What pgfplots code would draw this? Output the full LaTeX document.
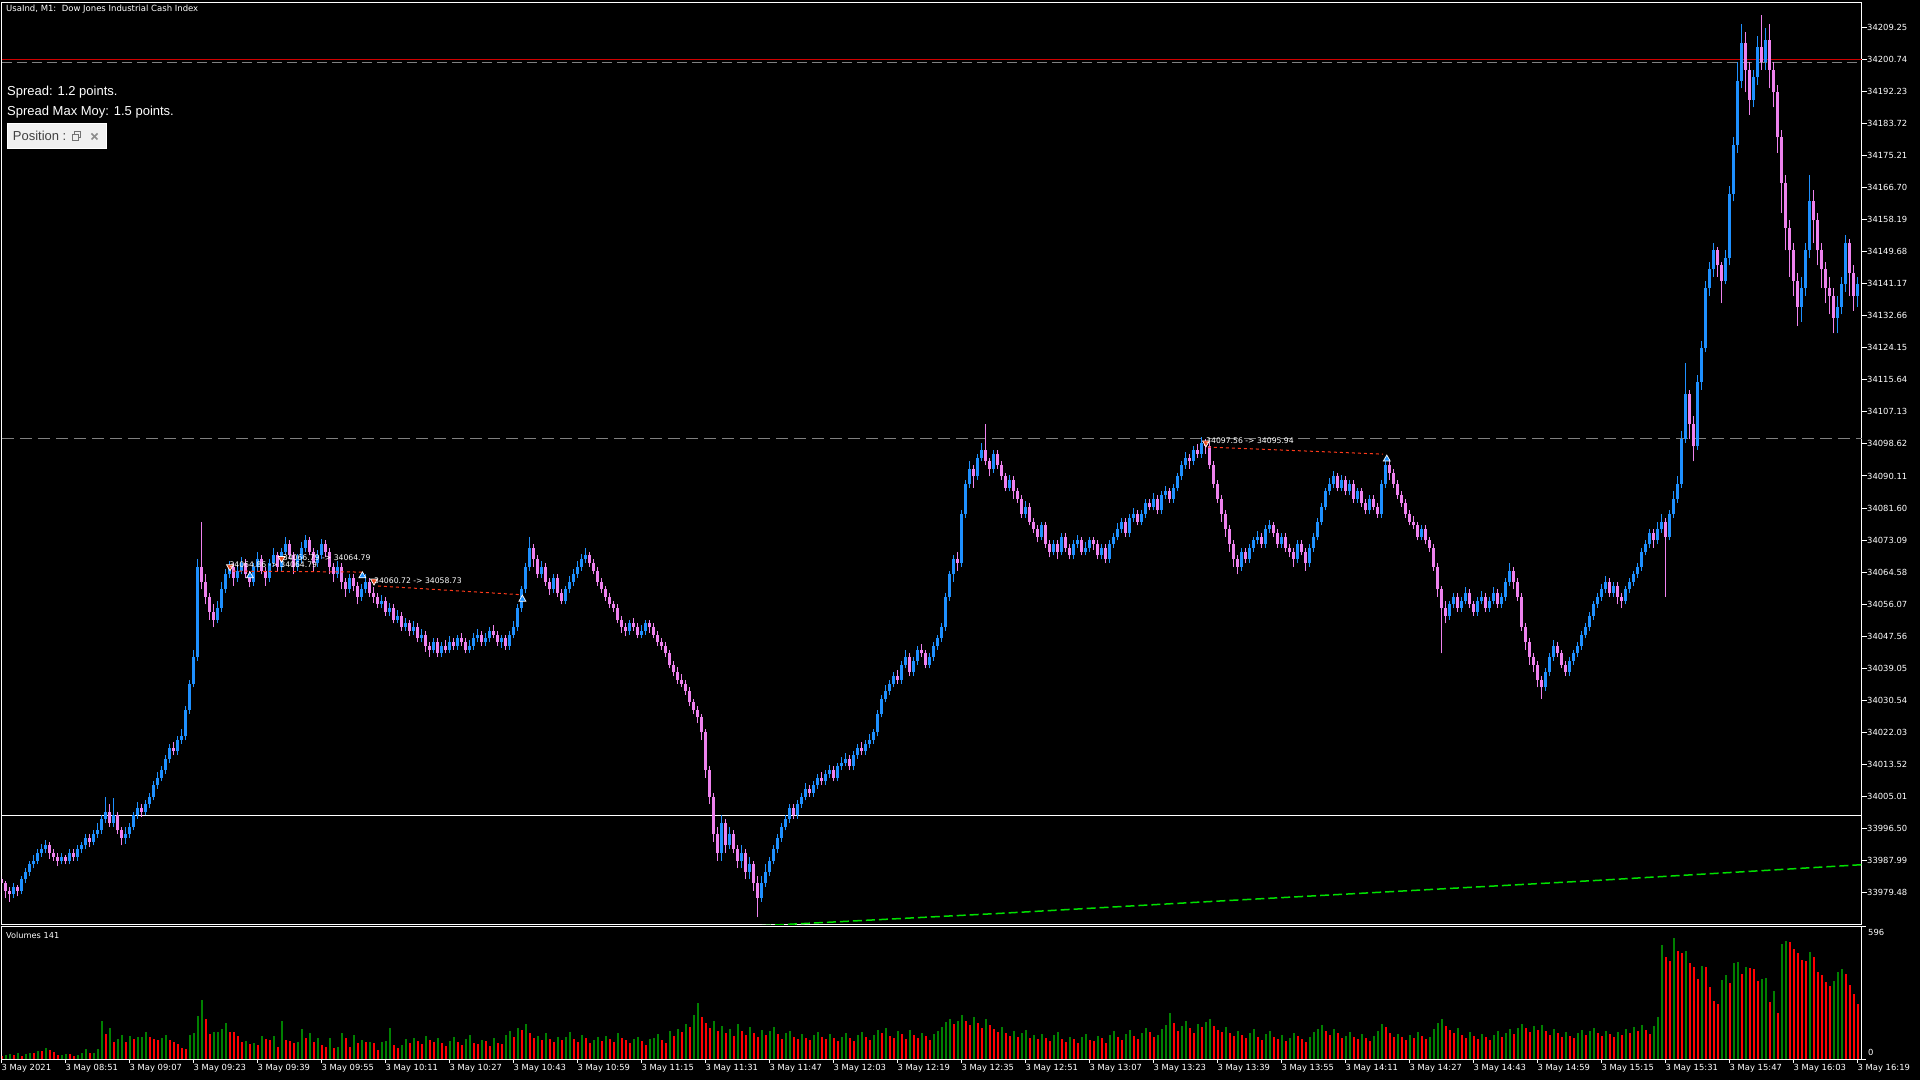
\documentclass[border=0pt]{standalone}
\usepackage{pgfplots}
\usepackage{pgfplotstable}
\pgfplotsset{compat=1.18}
\usepackage{fontspec}
\setmainfont{DejaVu Sans}
\newfontfamily\lib{Liberation Sans}
\definecolor{cup}{HTML}{1E90FF}
\definecolor{cdn}{HTML}{EE82EE}
\definecolor{vup}{HTML}{008000}
\definecolor{vdn}{HTML}{FF0000}
\definecolor{redline}{HTML}{D00000}
\definecolor{maG}{HTML}{00E000}
\definecolor{sellc}{HTML}{E84A1E}
\definecolor{tradec}{HTML}{FF3A1A}
\definecolor{gline}{HTML}{808080}
\pgfplotsset{nomark/.style={only marks, mark=*, mark size=0pt, mark options={draw=none, fill=none}}}
\pgfplotstableread{
i o h l c
3 -21 -18 -22 -19
5 -20 -16 -21 -17
6 -17 -14 -18 -15
7 -15 -12 -16 -13
8 -13 -10.5 -14 -12
9 -12 -9 -13 -10
10 -10 -7.5 -11 -9
11 -9 -6.5 -10 -8
15 -12 -10 -13 -11
17 -12 -9 -13 -10
19 -11 -8 -12 -9
20 -9 -7 -10 -8
21 -8 -5 -9 -6
23 -7 -4 -8 -5
24 -5 -2 -6 -4
25 -4 0 -5 -1
26 -1 5 -2 1
28 -2 4.5 -3 0
31 -6 -3 -7.5 -5
32 -5 -2 -6 -3
33 -3 1 -4 0
34 0 3.5 -1 2
36 1 4 0 3
37 3 6 2 5
38 5 9 4 8
39 8 11.5 7 10
40 10 13 9 12
41 12 16 11 15
42 15 19 14 18
44 17 21 16 20
45 20 23 19 21
46 21 29 20 28
47 28 36 27 35
48 35 44 34 42
49 42 68 41 66
54 52 57 51 55
55 55 62 54 60
56 60 65.5 59 64
57 64 67.5 63 66
59 63 66.5 62 65
60 65 68.5 64 67
63 62 67 61 66
64 66 70 65 68
67 63 68 62 67
68 67 71 66 69
70 66 71 65 70
71 70 74 69 72
74 66 69.5 65 68
75 68 72.5 67 71
76 71 74.5 70 73
79 67 70.5 66 69
80 69 73.5 68 72
84 64 67.5 63 66
87 60 64 59 63
90 58 61.5 57 60
91 60 64 59 62
95 56 58.5 55 57
97 54 56.5 53 55
99 52 54.5 51 53
101 50 52.5 49 51
103 49 51.5 48 50
105 47 49.5 46 48
108 44 47 43 46
110 43 46 42 45
112 44 47.5 43 46
114 45 48 44 47
117 44 46.5 43 45
118 45 48.5 44 47
119 47 49.5 46 48
121 46 48.5 45 47
122 47 50 46 49
125 46 48 44.5 47
127 45 49 44 48
128 48 51.5 47 50
129 50 56 49 55
130 55 61 54 60
131 60 67 59 66
132 66 74 65 71
135 64 67.5 63 66
138 60 64 59 63
141 57 61 56 60
142 60 63.5 59 62
143 62 65.5 61 64
144 64 67.5 63 66
145 66 69.5 65 68
146 68 71 67 69
157 49 52 48 51
160 48 50.5 47 49
161 49 52 48 51
180 -10 0 -12 -2
182 -8 -3 -9 -5
185 -12 -8 -14 -10
187 -15 -11 -17 -13
190 -22 -16 -23 -18
191 -18 -13 -19 -15
192 -15 -11 -16 -12
193 -12 -8 -13 -9
194 -9 -5 -10 -6
195 -6 -2 -7 -3
196 -3 0 -4 -1
197 -1 3 -2 2
199 0 4 -1 3
200 3 6 2 5
201 5 8.5 4 7
203 6 9 5 8
204 8 11 7 10
206 9 12 8 11
207 11 13.5 10 12
209 10 14 9 13
210 13 15.5 12 14
211 14 16.5 13 15
213 13 17 12 16
214 16 19 15 18
216 17 20 16 19
217 19 21.5 18 20
218 20 23 19 22
219 22 28 21 27
220 27 32 26 31
221 31 34.5 30 33
222 33 36 32 35
223 35 38 34 37
225 36 41 35 40
226 40 44 39 42
228 38 42 37 41
229 41 45 40 44
232 40 43 39 42
233 42 46 41 45
234 45 48 44 47
235 47 51 46 50
236 50 59 49 58
237 58 65 57 64
238 64 69 62 68
240 67 81 66 80
241 80 89 79 88
242 88 94 87 92
244 90 96 89 95
245 95 99 94 97
248 92 97 91 96
252 87 90.5 86 89
256 80 83.5 79 82
260 74 78 73 77
263 70 73 69 72
265 70 75 69 74
268 69 73 68 72
269 72 74.5 71 73
271 70 72.5 69 71
272 71 74 70 73
275 69 72 68 71
277 68 73 67 72
278 72 75 71 74
279 74 77.5 73 76
280 76 79 75 78
282 75 80 74 79
283 79 81.5 78 80
285 78 81 77 80
286 80 84 79 83
288 82 85.5 81 84
290 81 86 80 85
291 85 87.5 84 86
293 84 88 83 87
294 87 91 86 90
295 90 94 89 93
296 93 96.5 92 95
298 94 98 93 97
300 96 100.5 95 99
310 66 71 65 70
312 68 72 67 71
313 71 74 70 73
314 73 75.5 72 74
316 72 77 71 76
317 76 78.5 75 77
320 72 75 71 74
324 68 73 67 72
327 67 72 66 71
328 71 75 70 74
329 74 79 73 78
330 78 83 77 82
331 82 87 81 86
332 86 89.5 85 88
333 88 91.5 87 90
335 87 90.5 86 89
337 86 89 85 88
339 84 87 83 86
342 81 85 80 84
345 80 89 79 88
346 88 95 87 93
355 74 77 73 76
362 53 57 52 56
363 56 59 55 58
365 55 58 54 57
366 57 60.5 56 59
369 54 58 53 57
370 57 59.5 56 58
372 55 58 54 57
373 57 60.5 56 59
375 56 59 55 58
376 58 63 57 62
377 62 67 61 65
386 34 39 33 38
387 38 43 37 42
388 42 46.5 41 45
392 38 42 37 41
393 41 44 40 43
394 43 46 42 45
395 45 49 44 48
396 48 51 47 50
397 50 54 49 53
398 53 57 52 56
399 56 59 55 58
400 58 61.5 57 60
401 60 63.5 59 62
403 59 62 58 61
406 57 61 56 60
407 60 63 59 62
408 62 65 61 64
409 64 67 63 66
410 66 71 65 70
411 70 73 69 72
412 72 76 71 75
414 73 78 72 76
415 76 80 75 78
417 74 81 73 80
418 80 86 79 84
419 84 90 83 88
420 88 102 87 100
421 100 120 99 112
424 98 117 97 115
425 115 126 113 124
426 124 142 123 140
427 140 147 138 145
428 145 152 143 150
431 142 150 141 148
432 148 167 146 165
433 165 180 163 178
434 178 200 176 195
435 195 210 193 205
438 190 198 188 196
439 196 207 194 204
441 200 209 198 206
450 135 143 131 140
451 140 152 138 150
452 150 170 148 163
459 132 138 128 135
460 135 143 133 141
461 141 154 139 152
464 138 143 135 141
}\cupT
\pgfplotstableread{
i o h l c
0 -17 -16 -20.5 -18
1 -18 -17.5 -22 -20
2 -20 -19 -23 -21
4 -19 -18.5 -21.5 -20
12 -8 -7 -11.5 -10
13 -10 -9 -12 -11
14 -11 -10 -13.5 -12
16 -11 -10.5 -13 -12
18 -10 -9 -12 -11
22 -6 -5 -8.5 -7
27 1 3 -3 -2
29 0 1 -5 -4
30 -4 -3 -8 -6
35 2 3 -0.5 1
43 18 19.5 16 17
50 66 78 60 62
51 62 64 56 58
52 58 59 52 54
53 54 56 50 52
58 66 67 61 63
61 67 68 63 64
62 64 65 60.5 62
65 68 69 64 65
66 65 66 61 63
69 69 70 65 66
72 72 73 68 69
73 69 70 64 66
77 73 74 69 70
78 70 71 65 67
81 72 73 68.5 70
82 70 71 64 66
83 66 67 62 64
85 66 67 60 62
86 62 63 58 60
88 63 64 59.5 61
89 61 62 56 58
92 62 63 58 59
93 59 60.5 56.5 58
94 58 59 55 56
96 57 58 53 54
98 55 56 51 52
100 53 54 49 50
102 51 52 47.5 49
104 50 51 46 47
106 48 49 43.5 45
107 45 46 42 44
109 46 47 42 43
111 45 46.5 43 44
113 46 47 44 45
115 47 48.5 45 46
116 46 47 43 44
120 48 49 45 46
123 49 50.5 47 48
124 48 49 45 46
126 47 48 44 45
133 71 72 66 68
134 68 69 63 64
136 66 67 61 62
137 62 63 58.5 60
139 63 64 58 59
140 59 60 56 57
147 69 70 66 67
148 67 68 64 65
149 65 66 61 62
150 62 63 59 60
151 60 61 57 58
152 58 59 55 56
153 56 57 54 55
154 55 56 51 52
155 52 53 48.5 50
156 50 51 47.5 49
158 51 52.5 49 50
159 50 51 47 48
162 51 52 48.5 50
163 50 51 47 48
164 48 49 45 46
165 46 47 44 45
166 45 46 42 43
167 43 44 39 40
168 40 41 37 38
169 38 39.5 35 36
170 36 37.5 34 35
171 35 36 32 33
172 33 34 29 30
173 30 31 27 28
174 28 29 24.5 26
175 26 27 20 22
176 22 23 10 12
177 12 13 3 5
178 5 6 -7 -5
179 -5 -3 -12 -10
181 -2 -1 -10 -8
183 -5 -4 -10 -9
184 -9 -8 -14 -12
186 -10 -9 -17 -15
188 -13 -12 -20 -18
189 -18 -16 -27 -22
198 2 3 -1 0
202 7 8 5 6
205 10 11.5 8 9
208 12 13 9 10
212 15 16 12 13
215 18 19.5 16 17
224 37 38.5 35 36
227 42 43 37 38
230 44 45.5 42 43
231 43 44 39 40
239 68 70 65 67
243 92 93 87 90
246 97 104 93 94
247 94 95 90 92
249 96 97 92 93
250 93 94 89 90
251 90 91 86 87
253 89 90 84 86
254 86 87 83 84
255 84 85 79 80
257 82 83 77 78
258 78 79 75 76
259 76 77 72.5 74
261 77 78 71 72
262 72 73 68.5 70
264 72 73 68 70
266 74 75 70 71
267 71 72 68 69
270 73 74 69 70
273 73 74 70.5 72
274 72 73 68 69
276 71 72 67 68
281 78 79 74 75
284 80 81 77 78
287 83 84 81 82
289 84 85 80 81
292 86 87 83 84
297 95 96 92 94
299 97 98.5 95 96
301 99 100 96 98
302 98 99 92 93
303 93 94 87 88
304 88 89 83 84
305 84 85 78 80
306 80 81 74 76
307 76 77 70 72
308 72 73 66 68
309 68 69 64 66
311 70 71 67 68
315 74 75 71 72
318 77 78 74 75
319 75 76 71 72
321 74 75 70 71
322 71 72 68.5 70
323 70 71 66 68
325 72 73 69 70
326 70 71 65 67
334 90 91 86 87
336 89 90 85 86
338 88 89 83 84
340 86 87 82 83
341 83 84 80 81
343 84 85 81 82
344 82 83 79 80
347 93 94 89 91
348 91 92 87 88
349 88 89 84 85
350 85 86 82 83
351 83 84 79 80
352 80 81 77 78
353 78 79.5 76 77
354 77 78 73 74
356 76 77 72 73
357 73 74 70 71
358 71 72 65 66
359 66 67 58 60
360 60 61 43 55
361 55 57 51 53
364 58 59 54 55
367 59 60 55 56
368 56 57 53 54
371 58 59 54 55
374 59 60 55 56
378 65 66 60 62
379 62 63 57 58
380 58 59 49 50
381 50 51 44 46
382 46 47 40 42
383 42 43 38 40
384 40 41 34 36
385 36 37 31 34
389 45 46 42 43
390 43 44 39 40
391 40 41 37 38
402 62 63 58 59
404 61 62 56 58
405 58 59 55 57
413 75 76 71 73
416 78 79 58 74
422 112 113 100 104
423 104 106 94 98
429 150 151 143 146
430 146 147 136 142
436 205 208 192 198
437 198 200 186 190
440 204 212.5 198 200
442 206 210 193 198
443 198 200 188 192
444 192 194 176 180
445 180 182 160 168
446 168 170 150 156
447 156 158 143 150
448 150 152 138 142
449 142 144 130 135
453 163 166 152 158
454 158 160 146 150
455 150 152 140 145
456 145 147 136 140
457 140 143 133 138
458 138 140 128 132
462 152 153 138 144
463 144 146 134 138
}\cdnT
\begin{document}
\begin{tikzpicture}[x=1pt,y=1pt]
\useasboundingbox (0,0) rectangle (1920,1080);
\fill[black] (0,0) rectangle (1920,1080);
% main price panel
\begin{axis}[
  at={(2pt,156pt)}, anchor=south west, scale only axis,
  width=1860pt, height=921pt,
  xmin=0, xmax=465, ymin=-28.85, ymax=215.70,
  axis line style={white, line width=1pt},
  xtick=\empty,
  ytick pos=right, yticklabel pos=right,
  tick align=outside, major tick length=5pt,
  tick style={white, line width=1pt},
  ytick={-20.52,-12.01,-3.50,5.01,13.52,22.03,30.54,39.05,47.56,56.07,64.58,73.09,81.60,90.11,98.62,107.13,115.64,124.15,132.66,141.17,149.68,158.19,166.70,175.21,183.72,192.23,200.74,209.25},
  yticklabels={33979.48,33987.99,33996.50,34005.01,34013.52,34022.03,34030.54,34039.05,34047.56,34056.07,34064.58,34073.09,34081.60,34090.11,34098.62,34107.13,34115.64,34124.15,34132.66,34141.17,34149.68,34158.19,34166.70,34175.21,34183.72,34192.23,34200.74,34209.25},
  yticklabel style={font=\fontsize{8.4}{9}\selectfont, text=white, anchor=west, inner sep=0pt},
]
\addplot[redline, line width=1pt, forget plot] coordinates {(0,200.74) (465,200.74)};
\addplot[gline, line width=1pt, dash pattern=on 10pt off 5pt, forget plot] coordinates {(0,200.02) (465,200.02)};
\addplot[gline, line width=1pt, dash pattern=on 12pt off 6pt, forget plot] coordinates {(0,100.15) (465,100.15)};
\addplot[white, line width=1.2pt, forget plot] coordinates {(0,0) (465,0)};
% wicks
\addplot[cup, nomark,
  error bars/.cd, y dir=plus, y explicit, error mark=none,
  error bar style={line width=1pt, draw=cup, solid}]
  table[x=i, y=l, y error expr=\thisrow{h}-\thisrow{l}] {\cupT};
\addplot[cdn, nomark,
  error bars/.cd, y dir=plus, y explicit, error mark=none,
  error bar style={line width=1pt, draw=cdn, solid}]
  table[x=i, y=l, y error expr=\thisrow{h}-\thisrow{l}] {\cdnT};
% bodies
\addplot[cup, nomark,
  error bars/.cd, y dir=plus, y explicit, error mark=none,
  error bar style={line width=3pt, draw=cup, solid}]
  table[x=i, y=o, y error expr=\thisrow{c}-\thisrow{o}] {\cupT};
\addplot[cdn, nomark,
  error bars/.cd, y dir=plus, y explicit, error mark=none,
  error bar style={line width=3pt, draw=cdn, solid}]
  table[x=i, y=c, y error expr=\thisrow{o}-\thisrow{c}] {\cdnT};
% moving average
\addplot[maG, line width=1.5pt, dash pattern=on 9pt off 4pt] coordinates {(190,-29.3) (250,-26.0) (300,-23.0) (350,-20.1) (400,-17.2) (465,-13.1)};
% trade lines
\addplot[tradec, line width=1pt, dash pattern=on 3pt off 3pt] coordinates {(57.75,64.85) (90,64.6)};
\addplot[tradec, line width=1pt, dash pattern=on 3pt off 3pt] coordinates {(94,60.9) (129.5,58.6)};
\addplot[tradec, line width=1pt, dash pattern=on 3pt off 3pt] coordinates {(301.5,97.8) (345.25,95.9)};
% trade markers
\addplot[only marks, mark=triangle*, mark size=4pt, mark options={rotate=180, fill=sellc, draw=white, line width=0.7pt}] coordinates {(57,66.0) (69.9,68.2) (93,62.2) (301,98.9)};
\addplot[only marks, mark=triangle*, mark size=4pt, mark options={fill=cup, draw=white, line width=0.7pt}] coordinates {(62,63.6) (90.1,63.6) (130.1,57.4) (346.2,94.6)};
\end{axis}
% volume panel
\begin{axis}[
  at={(2pt,21pt)}, anchor=south west, scale only axis,
  width=1860pt, height=132.3pt,
  xmin=0, xmax=465, ymin=0, ymax=596,
  axis line style={white, line width=1pt},
  tick align=outside, major tick length=4pt,
  tick style={white, line width=1pt},
  ytick pos=right, ytick={0,596}, yticklabel={},
  xtick pos=left,
  xtick={0,16,...,464},
  xticklabels={3 May 2021,3 May 08:51,3 May 09:07,3 May 09:23,3 May 09:39,3 May 09:55,3 May 10:11,3 May 10:27,3 May 10:43,3 May 10:59,3 May 11:15,3 May 11:31,3 May 11:47,3 May 12:03,3 May 12:19,3 May 12:35,3 May 12:51,3 May 13:07,3 May 13:23,3 May 13:39,3 May 13:55,3 May 14:11,3 May 14:27,3 May 14:43,3 May 14:59,3 May 15:15,3 May 15:31,3 May 15:47,3 May 16:03,3 May 16:19},
  xticklabel style={font=\fontsize{8.4}{9}\selectfont, text=white, anchor=north west, inner sep=0pt, xshift=-0.5pt, yshift=-1pt},
]
\addplot[ycomb, vup, line width=1.2pt, mark=none] coordinates {
(1,18) (2,22) (4,27) (6,22) (7,27) (9,36) (11,49) (15,19) (16,22) (19,18) (20,27) (21,45) (23,28) (24,45) (25,171) (27,139) (29,90) (30,108) (32,103) (34,99) (35,100) (36,121) (40,94) (41,108) (47,108) (48,117) (49,193) (50,265) (53,121) (54,122) (55,135) (56,162) (61,81) (63,72) (65,103) (68,103) (70,171) (74,76) (75,135) (77,117) (79,94) (82,94) (84,54) (85,117) (88,108) (90,85) (92,77) (95,76) (96,81) (97,139)
(100,62) (101,88) (103,95) (106,102) (109,93) (112,81) (113,97) (116,89) (117,110) (120,85) (123,94) (126,108) (127,124) (129,141) (131,156) (134,104) (136,115) (139,101) (141,97) (142,120) (145,109) (148,86) (149,99) (151,105) (154,118) (158,90) (159,101) (162,88) (163,94) (164,112) (167,128) (169,137) (171,158) (173,196) (174,252) (178,173) (180,148) (182,135) (184,156) (187,143) (190,131) (192,124) (193,146) (196,118) (197,127)
(200,112) (203,107) (204,122) (207,114) (210,101) (211,116) (214,108) (215,121) (218,110) (219,132) (221,141) (224,124) (227,131) (230,119) (233,113) (234,128) (235,145) (236,167) (237,182) (239,173) (240,196) (243,189) (246,178) (250,142) (253,127) (255,115) (256,131) (258,108) (260,112) (263,106) (264,121) (267,101) (270,97) (271,113) (274,102) (277,108) (278,125) (281,114) (282,130) (285,118) (286,141) (289,110) (290,134) (291,152) (292,208) (295,147) (296,171) (299,156)
(301,167) (302,182) (306,143) (309,128) (312,117) (313,135) (316,112) (317,124) (320,107) (322,95) (323,118) (327,99) (328,121) (329,137) (330,152) (333,134) (336,105) (337,123) (340,112) (343,103) (344,126) (345,158) (349,114) (352,109) (354,120) (357,97) (358,135) (359,162) (360,178) (364,138) (367,122) (370,113) (373,107) (374,125) (376,118) (377,134) (379,141) (380,156) (383,148) (385,152) (388,134) (391,121) (394,117) (395,132) (397,126) (398,141)
(401,128) (404,121) (406,135) (408,146) (410,152) (413,149) (414,191) (415,513) (418,545) (421,486) (425,419) (430,356) (431,378) (433,434) (434,437) (436,414) (440,360) (441,365) (443,308) (445,519) (446,531) (452,482) (458,351) (459,392) (460,405)
};
\addplot[ycomb, vdn, line width=1.2pt, mark=none] coordinates {
(0,15) (3,18) (5,15) (8,26) (10,35) (12,40) (13,31) (14,18) (17,21) (18,13) (22,27) (26,112) (28,76) (31,76) (33,90) (37,99) (38,90) (39,85) (42,85) (43,76) (44,67) (45,49) (46,45) (51,180) (52,112) (57,121) (58,120) (59,103) (60,76) (62,67) (64,63) (66,90) (67,85) (69,54) (71,85) (72,81) (73,72) (76,94) (78,76) (80,63) (81,54) (83,49) (86,94) (87,54) (89,72) (91,76) (93,72) (94,40) (98,63) (99,51)
(102,71) (104,80) (105,66) (107,84) (108,75) (110,70) (111,58) (114,76) (115,64) (118,72) (119,68) (121,79) (122,60) (124,73) (125,66) (128,98) (130,132) (132,118) (133,96) (135,87) (137,92) (138,78) (140,84) (143,88) (144,76) (146,93) (147,71) (150,82) (152,91) (153,77) (155,96) (156,84) (157,72) (160,79) (161,65) (165,86) (166,73) (168,104) (170,121) (172,142) (175,188) (176,164) (177,139) (179,126) (181,117) (183,102) (185,128) (186,110) (188,119) (189,98) (191,107) (194,113) (195,92) (198,101) (199,89)
(201,96) (202,84) (205,99) (206,88) (208,93) (209,79) (212,94) (213,83) (216,97) (217,86) (220,118) (222,105) (223,96) (225,112) (226,88) (228,107) (229,95) (231,102) (232,87) (238,158) (241,171) (242,154) (244,162) (245,140) (247,151) (248,133) (249,120) (251,118) (252,104) (254,99) (257,96) (259,89) (261,95) (262,83) (265,92) (266,78) (268,88) (269,74) (272,86) (273,79) (275,94) (276,71) (279,99) (280,87) (283,104) (284,92) (287,123) (288,97) (293,163) (294,128) (297,139) (298,118)
(300,144) (303,149) (304,131) (305,120) (307,116) (308,102) (310,109) (311,93) (314,98) (315,86) (318,101) (319,90) (321,82) (324,103) (325,88) (326,76) (331,128) (332,110) (334,117) (335,96) (338,98) (339,89) (341,94) (342,81) (346,142) (347,119) (348,97) (350,101) (351,86) (353,93) (355,104) (356,88) (361,149) (362,131) (363,116) (365,107) (366,95) (368,104) (369,91) (371,98) (372,86) (375,99) (378,112) (381,139) (382,121) (384,130) (386,127) (387,109) (389,116) (390,98) (392,105) (393,93) (396,108) (399,119)
(400,103) (402,114) (403,97) (405,109) (407,118) (409,128) (411,131) (412,113) (416,459) (417,441) (419,486) (420,479) (422,432) (423,416) (424,360) (426,414) (427,324) (428,261) (429,248) (432,344) (435,383) (437,408) (438,405) (439,353) (442,258) (444,207) (447,527) (448,497) (449,477) (450,446) (451,441) (453,459) (454,393) (455,378) (456,348) (457,329) (461,383) (462,333) (463,293) (464,248)
};
\end{axis}
% texts
\node[anchor=west, inner sep=0pt, text=white, font=\fontsize{8.5}{9}\selectfont] at (6,1070.5) {UsaInd, M1:\ \ Dow Jones Industrial Cash Index};
\node[anchor=base west, inner sep=0pt, text=white, font=\lib\fontsize{13}{15}\selectfont] at (7,984.3) {Spread: 1.2 points.};
\node[anchor=base west, inner sep=0pt, text=white, font=\lib\fontsize{13}{15}\selectfont] at (7,964.3) {Spread Max Moy: 1.5 points.};
\filldraw[fill=black!6, draw=white, line width=1pt] (7.3,931.7) rectangle (106.7,956.7);
\node[anchor=base west, inner sep=0pt, text=black!75, font=\lib\fontsize{13}{15}\selectfont] at (12.7,939.3) {Position :};
\draw[black!55, line width=0.8pt] (72,940) rectangle (78,946);
\draw[black!55, line width=0.8pt] (74.5,946) -- (74.5,948.5) -- (80.5,948.5) -- (80.5,942.5) -- (78,942.5);
\draw[black!45, line width=1.6pt] (91.5,940.5) -- (97.5,946.5);
\draw[black!45, line width=1.6pt] (91.5,946.5) -- (97.5,940.5);
\node[anchor=west, inner sep=0pt, text=white, font=\fontsize{8.2}{9}\selectfont] at (6,144.3) {Volumes 141};
\node[anchor=west, inner sep=0pt, text=white, font=\fontsize{8.4}{9}\selectfont] at (1868,148) {596};
\node[anchor=west, inner sep=0pt, text=white, font=\fontsize{8.4}{9}\selectfont] at (1868,28) {0};
% trade labels
\node[anchor=west, inner sep=0pt, text=white, font=\fontsize{7.7}{8}\selectfont] at (229.3,515.7) {34064.86 -> 34064.79};
\node[anchor=west, inner sep=0pt, text=white, font=\fontsize{7.7}{8}\selectfont] at (282.7,522.3) {34066.79 -> 34064.79};
\node[anchor=west, inner sep=0pt, text=white, font=\fontsize{7.7}{8}\selectfont] at (374,499) {34060.72 -> 34058.73};
\node[anchor=west, inner sep=0pt, text=white, font=\fontsize{7.7}{8}\selectfont] at (1206,639) {34097.56 -> 34095.94};
\end{tikzpicture}
\end{document}
